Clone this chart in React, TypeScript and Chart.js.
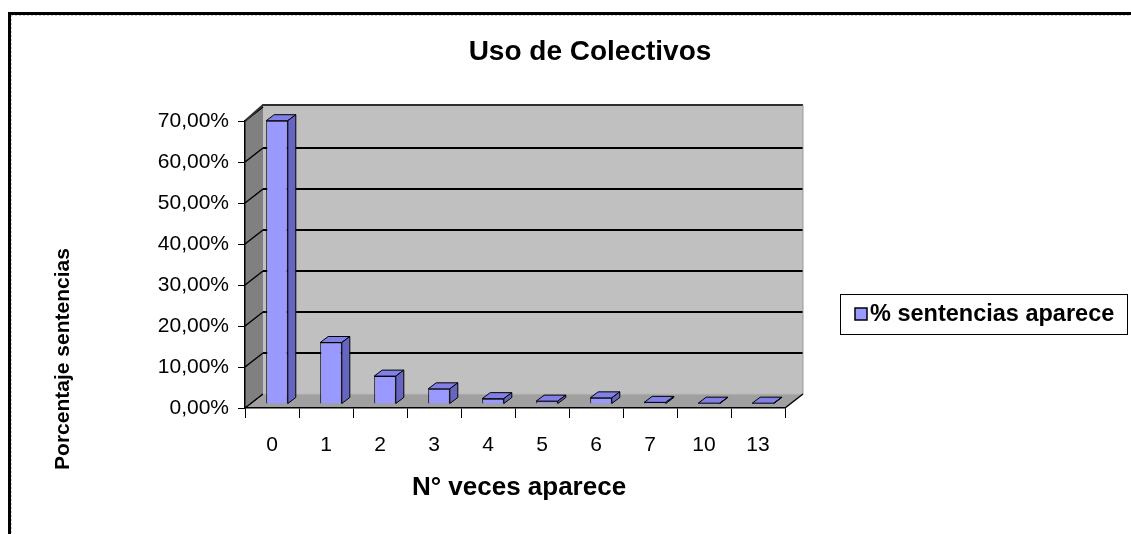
import React, { useEffect, useRef } from "react";
import { Chart, registerables } from "chart.js";

Chart.register(...registerables);

const categories = ["0", "1", "2", "3", "4", "5", "6", "7", "10", "13"];
const percentages = [69.1, 15.0, 6.8, 3.7, 1.3, 0.7, 1.5, 0.4, 0.2, 0.2];
const seriesLabel = "% sentencias aparece";
const chartTitle = "Uso de Colectivos";
const xTitle = "N° veces aparece";
const yTitle = "Porcentaje sentencias";
const yMax = 70;
const yStep = 10;

const FONT = "'Liberation Sans', Arial, sans-serif";
const W = 1131;
const H = 534;
// depth offsets
const DX = 18, DY = -14; // back wall
const BX = 5, BY = -4; // bar front face shift
const BDX = 8, BDY = -6; // bar depth

const scenePlugin = {
  id: "scene3d",
  beforeDraw(chart: any) {
    const ctx = chart.ctx as CanvasRenderingContext2D;
    const { left, right, top, bottom } = chart.chartArea;
    const ys = chart.scales.y;
    ctx.save();
    ctx.fillStyle = "#fff";
    ctx.fillRect(0, 0, W, H);
    // outer border
    ctx.fillStyle = "#000";
    ctx.fillRect(8, 12, W - 8, 3);
    ctx.fillRect(8, 12, 3, H - 12);
    ctx.strokeStyle = "#c8c8c8";
    ctx.lineWidth = 1;
    ctx.setLineDash([2, 2]);
    ctx.beginPath();
    ctx.moveTo(11.5, 15);
    ctx.lineTo(11.5, H);
    ctx.moveTo(11, 15.5);
    ctx.lineTo(W, 15.5);
    ctx.stroke();
    ctx.setLineDash([]);

    // back wall
    ctx.fillStyle = "#c0c0c0";
    ctx.fillRect(left + DX, top + DY - 2, right - left, bottom - top + 2);
    // side wall
    ctx.fillStyle = "#808080";
    ctx.beginPath();
    ctx.moveTo(left, top);
    ctx.lineTo(left + DX, top + DY - 2);
    ctx.lineTo(left + DX, bottom + DY);
    ctx.lineTo(left, bottom);
    ctx.closePath();
    ctx.fill();
    // floor
    ctx.fillStyle = "#a0a0a0";
    ctx.beginPath();
    ctx.moveTo(left, bottom);
    ctx.lineTo(left + DX, bottom + DY);
    ctx.lineTo(right + DX, bottom + DY);
    ctx.lineTo(right, bottom);
    ctx.closePath();
    ctx.fill();

    // grid lines on back wall and side wall
    ys.ticks.forEach((t: any) => {
      const y = ys.getPixelForValue(t.value);
      if (t.value > 0 && t.value < yMax) {
        ctx.strokeStyle = "#000";
        ctx.lineWidth = 2;
        ctx.beginPath();
        ctx.moveTo(left + DX, y + DY);
        ctx.lineTo(right + DX, y + DY);
        ctx.stroke();
      }
      ctx.strokeStyle = "#000";
      ctx.lineWidth = 1.5;
      ctx.beginPath();
      ctx.moveTo(left, y);
      ctx.lineTo(left + DX, y + DY);
      ctx.stroke();
    });
    // top edge of walls
    ctx.strokeStyle = "#303030";
    ctx.lineWidth = 2;
    ctx.beginPath();
    ctx.moveTo(left, top);
    ctx.lineTo(left + DX, top + DY - 2);
    ctx.lineTo(right + DX, top + DY - 2);
    ctx.stroke();
    // floor back edge
    ctx.strokeStyle = "#b8b8b8";
    ctx.lineWidth = 1;
    ctx.beginPath();
    ctx.moveTo(left + DX, bottom + DY);
    ctx.lineTo(right + DX, bottom + DY);
    ctx.stroke();
    // back wall right edge
    ctx.strokeStyle = "#9a9a9a";
    ctx.beginPath();
    ctx.moveTo(right + DX, top + DY - 2);
    ctx.lineTo(right + DX, bottom + DY);
    ctx.stroke();
    // floor right edge
    ctx.strokeStyle = "#000";
    ctx.lineWidth = 1.5;
    ctx.beginPath();
    ctx.moveTo(right, bottom);
    ctx.lineTo(right + DX, bottom + DY);
    ctx.stroke();
    // hidden floor edge
    ctx.setLineDash([3, 3]);
    ctx.lineWidth = 1;
    ctx.beginPath();
    ctx.moveTo(left, bottom);
    ctx.lineTo(left + DX, bottom + DY);
    ctx.stroke();
    ctx.setLineDash([]);
    ctx.restore();
  },
  beforeDatasetsDraw(chart: any) {
    chart.ctx.save();
    chart.ctx.translate(BX, BY);
  },
  afterDatasetsDraw(chart: any) {
    const ctx = chart.ctx as CanvasRenderingContext2D;
    const meta = chart.getDatasetMeta(0);
    meta.data.forEach((bar: any) => {
      const { x, y, base, width } = bar.getProps(["x", "y", "base", "width"], true);
      const l = x - width / 2;
      const r = x + width / 2;
      ctx.lineWidth = 1;
      ctx.strokeStyle = "#000";
      ctx.lineJoin = "round";
      // top face
      ctx.fillStyle = "#8080e6";
      ctx.beginPath();
      ctx.moveTo(l, y);
      ctx.lineTo(l + BDX, y + BDY);
      ctx.lineTo(r + BDX, y + BDY);
      ctx.lineTo(r, y);
      ctx.closePath();
      ctx.fill();
      ctx.stroke();
      // side face
      ctx.fillStyle = "#6666c0";
      ctx.beginPath();
      ctx.moveTo(r, y);
      ctx.lineTo(r + BDX, y + BDY);
      ctx.lineTo(r + BDX, base + BDY);
      ctx.lineTo(r, base);
      ctx.closePath();
      ctx.fill();
      ctx.stroke();
    });
    ctx.restore();
  },
  afterDraw(chart: any) {
    const ctx = chart.ctx as CanvasRenderingContext2D;
    ctx.save();
    ctx.fillStyle = "#000";
    ctx.textAlign = "center";
    ctx.textBaseline = "middle";
    ctx.font = `bold 28px ${FONT}`;
    ctx.fillText(chartTitle, 590, 52);
    ctx.font = `bold 26px ${FONT}`;
    ctx.fillText(xTitle, 519, 488);
    ctx.save();
    ctx.translate(63, 359);
    ctx.font = `bold 21px ${FONT}`;
    ctx.rotate(-Math.PI / 2);
    ctx.fillText(yTitle, 0, 0);
    ctx.restore();
    // legend
    ctx.fillStyle = "#fff";
    ctx.fillRect(840, 294, 287, 40);
    ctx.strokeStyle = "#000";
    ctx.lineWidth = 1;
    ctx.strokeRect(840.5, 294.5, 287, 40);
    ctx.fillStyle = chart.data.datasets[0].backgroundColor;
    ctx.fillRect(855, 308, 12, 12);
    ctx.lineWidth = 1.5;
    ctx.strokeRect(855, 308, 12, 12);
    ctx.fillStyle = "#000";
    ctx.textAlign = "left";
    ctx.font = `bold 23.5px ${FONT}`;
    ctx.fillText(chart.data.datasets[0].label, 870, 315);
    ctx.restore();
  },
};

export default function App() {
  const ref = useRef<HTMLCanvasElement | null>(null);
  useEffect(() => {
    document.body.style.margin = "0";
    const canvas = ref.current!;
    const chart = new Chart(canvas, {
      type: "bar",
      data: {
        labels: categories,
        datasets: [
          {
            label: seriesLabel,
            data: percentages,
            backgroundColor: "#9999ff",
            borderColor: "#000",
            borderWidth: 1,
            barPercentage: 0.4,
            categoryPercentage: 1,
            clip: false as any,
          },
        ],
      },
      options: {
        responsive: false,
        animation: false,
        devicePixelRatio: 1,
        layout: { padding: { top: 121, right: W - 785, bottom: 0, left: 0 } },
        plugins: { legend: { display: false }, title: { display: false }, tooltip: { enabled: false } },
        scales: {
          x: {
            type: "category",
            offset: true,
            ticks: { color: "#000", font: { size: 21, family: FONT }, padding: 15, maxRotation: 0 },
            grid: { offset: true, drawOnChartArea: false, drawTicks: true, tickLength: 10, color: "#000", lineWidth: 1 },
            border: { display: true, color: "#000", width: 1.5 },
            afterFit: (s: any) => {
              s.height = H - 408;
            },
          },
          y: {
            min: 0,
            max: yMax,
            ticks: {
              stepSize: yStep,
              color: "#000",
              font: { size: 21, family: FONT },
              padding: 9,
              callback: (v: any) => Number(v).toFixed(2).replace(".", ",") + "%",
            },
            grid: { drawOnChartArea: false, drawTicks: true, tickLength: 7, color: "#000", lineWidth: 1 },
            border: { display: true, color: "#000", width: 1.5 },
            afterFit: (s: any) => {
              s.width = 245;
            },
          },
        },
      },
      plugins: [scenePlugin],
    });
    return () => chart.destroy();
  }, []);
  return (
    <div style={{ width: W, height: H }}>
      <canvas ref={ref} width={W} height={H} />
    </div>
  );
}
